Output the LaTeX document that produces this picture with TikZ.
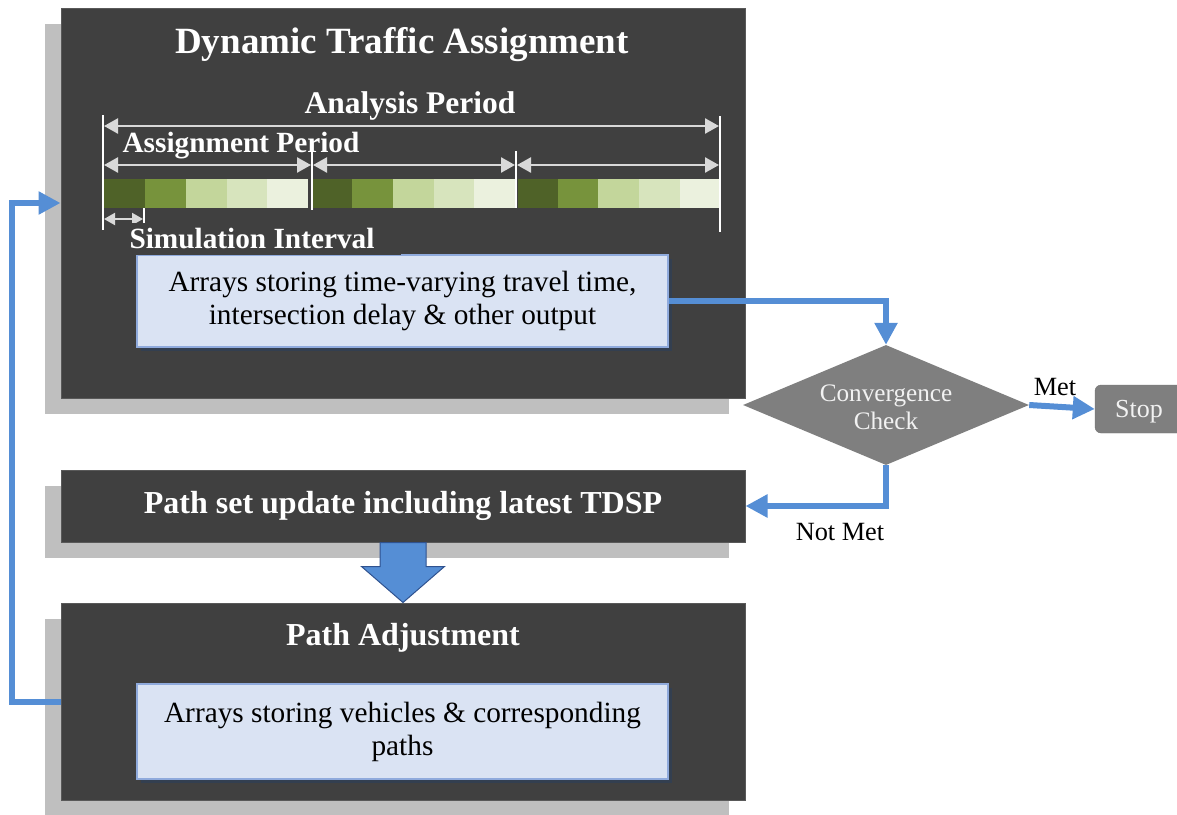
\documentclass[tikz,border=0pt]{standalone}
\usepackage{fontspec}
\setmainfont{Liberation Serif}
\usetikzlibrary{arrows.meta,shapes.geometric,calc,shadows}
\definecolor{boxdark}{HTML}{404040}
\definecolor{boxedge}{HTML}{595959}
\definecolor{shadowgray}{HTML}{BFBFBF}
\definecolor{flowblue}{HTML}{558ED5}
\definecolor{lightblue}{HTML}{DAE3F3}
\definecolor{bluebord}{HTML}{8FAADC}
\definecolor{blueshadow}{HTML}{333F50}
\definecolor{navyedge}{HTML}{2F528F}
\definecolor{tlgray}{HTML}{D9D9D9}
\definecolor{midgray}{HTML}{7F7F7F}
\definecolor{gA}{HTML}{4F6228}
\definecolor{gB}{HTML}{77933C}
\definecolor{gC}{HTML}{C3D69B}
\definecolor{gD}{HTML}{D7E4BD}
\definecolor{gE}{HTML}{EBF1DE}
\tikzset{
  darkbox/.style={draw=boxedge, fill=boxdark, line width=1pt, minimum width=684pt, inner sep=0pt,
    text=white, drop shadow={shadow xshift=-16pt, shadow yshift=-16pt, fill=shadowgray, opacity=1}},
  headfont/.style={font=\bfseries\fontsize{32}{36}\selectfont, text=white},
  bluebox/.style={draw=bluebord, line width=1.5pt, fill=lightblue, minimum width=531pt, inner sep=0pt,
    align=center, font=\fontsize{29.3}{33}\selectfont, text=black,
    drop shadow={shadow xshift=4pt, shadow yshift=-4pt, fill=blueshadow, opacity=1}},
  tick/.style={draw=white, line width=2pt},
  tlarrow/.style={draw=tlgray, line width=2.5pt, arrows={Triangle[length=14pt,width=15pt]-Triangle[length=14pt,width=15pt]}},
  tlsmall/.style={draw=tlgray, line width=2pt, arrows={Triangle[length=11pt,width=12pt]-Triangle[length=11pt,width=12pt]}},
  flow/.style={draw=flowblue, line width=6pt, arrows={-Triangle[length=22pt,width=22pt]}},
  blockarrow/.style={fill=flowblue, draw=navyedge, line width=1pt, line join=miter},
  decision/.style={diamond, aspect=2.37, fill=midgray, minimum width=286pt, minimum height=120pt, inner sep=0pt},
  decisiontext/.style={align=center, inner sep=0pt, text=white!95!black, font=\fontsize{25.2}{28}\selectfont},
  stopbox/.style={rounded corners=6pt, fill=midgray, draw=midgray!90!black, minimum width=88pt,
    minimum height=48pt, inner sep=0pt, text height=20pt, text depth=4pt,
    text=white!95!black, font=\fontsize{26}{30}\selectfont},
  lbl/.style={font=\fontsize{26.3}{30}\selectfont, text=black, inner sep=0pt, anchor=base},
  whitebold/.style={text=white, inner sep=0pt, anchor=base}
}
\begin{document}
\begin{tikzpicture}[x=1pt,y=-1pt]
\useasboundingbox (0,0) rectangle (1177,814);

% main boxes
\node[darkbox, minimum height=390pt] (dta) at (403,203) {};
\node[darkbox, minimum height=72pt, headfont] (psu) at (403,506) {Path set update including latest TDSP};
\node[darkbox, minimum height=197pt] (pa) at (403,701.5) {};

% titles
\node[whitebold, font=\bfseries\fontsize{37}{40}\selectfont] (title) at (402,53) {Dynamic Traffic Assignment};
\node[whitebold, headfont] (patitle) at (403,645) {Path Adjustment};

% colour bar
\fill[gA] (104,179) rectangle (145,208);
\fill[gB] (145,179) rectangle (186,208);
\fill[gC] (186,179) rectangle (227,208);
\fill[gD] (227,179) rectangle (267,208);
\fill[gE] (267,179) rectangle (308,208);
\fill[gA] (313,179) rectangle (352,208);
\fill[gB] (352,179) rectangle (393,208);
\fill[gC] (393,179) rectangle (434,208);
\fill[gD] (434,179) rectangle (474,208);
\fill[gE] (474,179) rectangle (515,208);
\fill[gA] (518,179) rectangle (558,208);
\fill[gB] (558,179) rectangle (598,208);
\fill[gC] (598,179) rectangle (639,208);
\fill[gD] (639,179) rectangle (680,208);
\fill[gE] (680,179) rectangle (720,208);

% timeline ticks
\coordinate (t0a) at (103,115); \coordinate (t0b) at (103,230);
\coordinate (t1a) at (312,152); \coordinate (t1b) at (312,210);
\coordinate (t2a) at (516,151); \coordinate (t2b) at (516,208);
\coordinate (t3a) at (720,116); \coordinate (t3b) at (720,232);
\coordinate (tsa) at (144,208); \coordinate (tsb) at (144,228);
\draw[tick] (t0a) -- (t0b);
\draw[tick] (t1a) -- (t1b);
\draw[tick] (t2a) -- (t2b);
\draw[tick] (t3a) -- (t3b);
\draw[tick] (tsa) -- (tsb);

% timeline arrows
\coordinate (an0) at (104,126); \coordinate (an1) at (719,126);
\coordinate (as0) at (104,165); \coordinate (as1) at (311,165);
\coordinate (as2) at (313,165); \coordinate (as3) at (515,165);
\coordinate (as4) at (517,165); \coordinate (as5) at (719,165);
\coordinate (si0) at (104,219); \coordinate (si1) at (143,219);
\draw[tlarrow] (an0) -- (an1);
\draw[tlarrow] (as0) -- (as1);
\draw[tlarrow] (as2) -- (as3);
\draw[tlarrow] (as4) -- (as5);
\draw[tlsmall] (si0) -- (si1);

\node[whitebold, font=\bfseries\fontsize{31.5}{34}\selectfont] (anl) at (410,113) {Analysis Period};
\node[whitebold, font=\bfseries\fontsize{29.3}{32}\selectfont] (asl) at (241,152) {Assignment Period};

% blue boxes
\node[bluebox, minimum height=92pt] (arr1) at (402.5,301) {Arrays storing time-varying travel time,\\intersection delay \& other output};
\node[bluebox, minimum height=95pt] (arr2) at (402.5,731.5) {Arrays storing vehicles \& corresponding\\paths};

% simulation interval label (on a dark patch covering the box edge)
\node[whitebold, font=\bfseries\fontsize{29.3}{32}\selectfont] (sil) at (252,248) {\phantom{Simulation Interval}};
\fill[boxdark] ($(sil.north west)+(-4,-4)$) rectangle ($(sil.south east)+(26,6)$);
\node[whitebold, font=\bfseries\fontsize{29.3}{32}\selectfont] (siltext) at (sil.base) {Simulation Interval};

% decision and stop
\node[decision] (conv) at (886,405) {};
\node[decisiontext] (convtext) at ($(conv.center)+(0,2.5)$) {Convergence\\Check};
\node[stopbox] (stop) at (1139,409) {Stop};

% connectors
\draw[flow] (arr1.east) -| (conv.north);
\draw[flow] (conv.south) |- (psu.east);
\draw[flow] (conv.east) -- (stop.west);
\coordinate (loopb) at (12,701.5);
\draw[flow] (pa.west) -- (loopb) |- (dta.west);

\node[lbl] (met) at (1055,395) {Met};
\node[lbl] (notmet) at (840,540) {Not Met};

% block arrow
\draw[blockarrow] ($(psu.south)+(-23,0)$) -- ($(psu.south)+(-23,24)$) -- ($(psu.south)+(-41.5,24)$)
  -- (pa.north) -- ($(psu.south)+(41.5,24)$) -- ($(psu.south)+(23,24)$) -- ($(psu.south)+(23,0)$) -- cycle;
\end{tikzpicture}
\end{document}
